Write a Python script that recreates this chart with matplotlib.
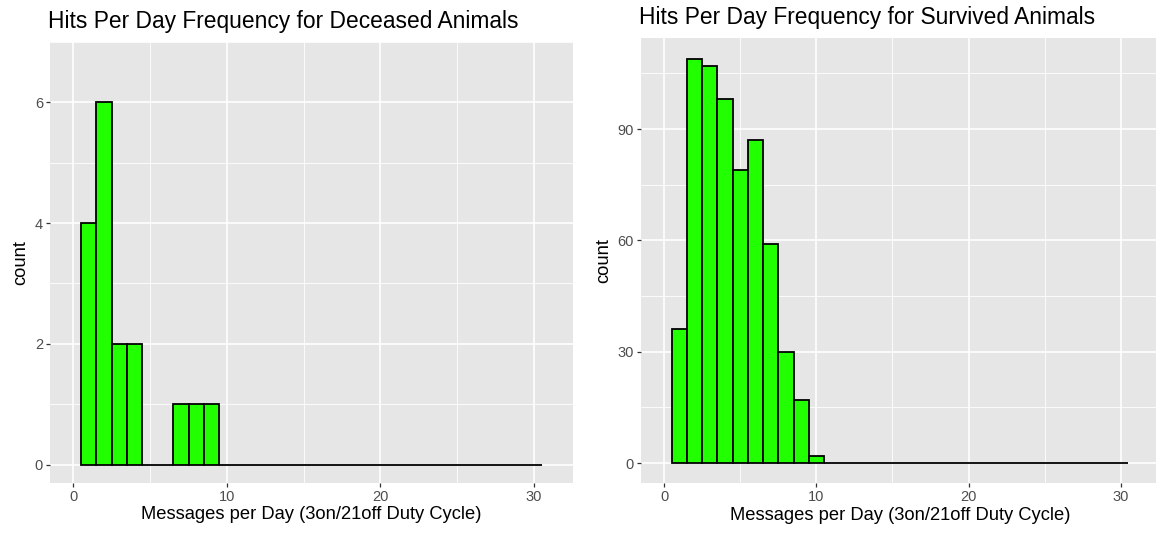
import matplotlib
matplotlib.use("Agg")
import matplotlib.pyplot as plt
import numpy as np

plt.rcParams["font.family"] = ["Liberation Sans", "DejaVu Sans"]

BINS = list(range(1, 31))
DECEASED_COUNTS = [4, 6, 2, 2, 0, 0, 1, 1, 1, 0] + [0] * 20
SURVIVED_COUNTS = [36, 109, 107, 98, 79, 87, 59, 30, 17, 2] + [0] * 20

X_TICKS = [0, 10, 20, 30]
DECEASED_Y_TICKS = [0, 2, 4, 6]
SURVIVED_Y_TICKS = [0, 30, 60, 90]

TITLES = ["Hits Per Day Frequency for Deceased Animals",
          "Hits Per Day Frequency for Survived Animals"]
X_LABEL = "Messages per Day (3on/21off Duty Cycle)"
Y_LABEL = "count"

PANEL_BG = "#E6E6E6"
FILL = "#22FF00"


def gg_panel(ax, counts, yticks, ylim, xlim, title):
    ax.set_facecolor(PANEL_BG)
    for s in ax.spines.values():
        s.set_visible(False)
    ax.bar(BINS, counts, width=1.0, color=FILL, edgecolor="black", linewidth=1.3, zorder=3)
    ax.set_xlim(*xlim)
    ax.set_ylim(*ylim)
    ax.set_xticks(X_TICKS)
    ax.set_yticks(yticks)
    step = yticks[1] - yticks[0]
    ax.set_xticks([5, 15, 25], minor=True)
    ax.set_yticks([t + step / 2 for t in yticks], minor=True)
    ax.grid(which="major", color="white", linewidth=1.2, zorder=0)
    ax.grid(which="minor", color="white", linewidth=0.6, zorder=0)
    ax.set_axisbelow(True)
    ax.tick_params(which="major", length=3, width=0.9, color="#333333",
                   labelcolor="#4D4D4D", labelsize=10.5, pad=2)
    ax.tick_params(which="minor", length=0)
    ax.set_xlabel(X_LABEL, fontsize=13.2, color="black", labelpad=2)
    ax.set_ylabel(Y_LABEL, fontsize=13.2, color="black", labelpad=4)
    ax.set_title(title, fontsize=16.4, loc="left", x=-0.003, pad=10)


fig = plt.figure(figsize=(11.56, 5.33), dpi=100)
ax1 = fig.add_axes([0.0433, 0.0944, 0.4526, 0.8268])
ax2 = fig.add_axes([0.5542, 0.0932, 0.4489, 0.8349])

gg_panel(ax1, DECEASED_COUNTS, DECEASED_Y_TICKS, (-0.3, 6.3), (-1.52, 32.56), TITLES[0])
gg_panel(ax2, SURVIVED_COUNTS, SURVIVED_Y_TICKS, (-5.45, 114.45), (-1.55, 32.56), TITLES[1])

fig.savefig("out.png", dpi=100)
